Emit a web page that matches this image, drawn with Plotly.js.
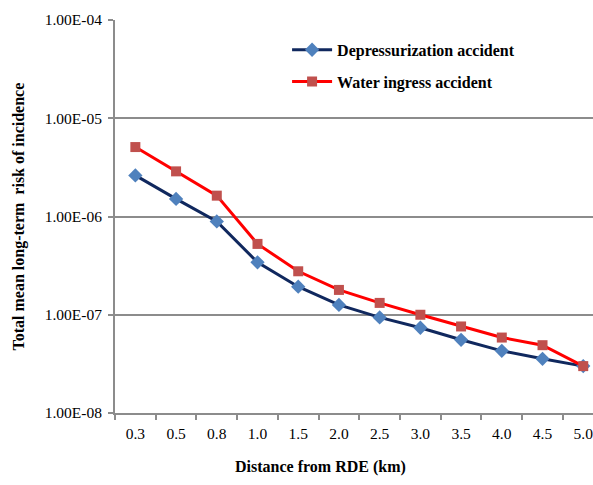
<!DOCTYPE html>
<html>
<head>
<meta charset="utf-8">
<script src="https://cdn.plot.ly/plotly-3.0.1.min.js"></script>
<style>html,body{margin:0;padding:0;background:#fff;}</style>
</head>
<body>
<div id="chart" style="width:593px;height:485px;"></div>
<script>
var distances = ["0.3","0.5","0.8","1.0","1.5","2.0","2.5","3.0","3.5","4.0","4.5","5.0"];
var depressurization = [2.62e-6,1.51e-6,8.9e-7,3.42e-7,1.93e-7,1.26e-7,9.4e-8,7.37e-8,5.56e-8,4.29e-8,3.56e-8,3.0e-8];
var waterIngress = [5.09e-6,2.88e-6,1.63e-6,5.26e-7,2.77e-7,1.79e-7,1.32e-7,1.0e-7,7.6e-8,5.86e-8,4.9e-8,3.0e-8];
var yTickVals = [1e-8,1e-7,1e-6,1e-5,1e-4];
var yTickText = ["1.00E-08","1.00E-07","1.00E-06","1.00E-05","1.00E-04"];

var serif = "'Liberation Serif', serif";

var traces = [
  {x: distances, y: depressurization, name: "Depressurization accident", type: "scatter", mode: "lines+markers",
   line: {color: "#10285E", width: 3},
   marker: {symbol: "diamond", size: 11, color: "#4F81BD", line: {width: 0}},
   legend: "legend"},
  {x: distances, y: waterIngress, name: "Water ingress accident", type: "scatter", mode: "lines+markers",
   line: {color: "#FF0000", width: 3},
   marker: {symbol: "square", size: 10, color: "#C0504D", line: {width: 0}},
   legend: "legend2"}
];

var legendFont = {family: serif, size: 16, color: "#000", weight: "bold"};

var layout = {
  width: 593, height: 485,
  margin: {l: 115, r: 0, t: 20, b: 72},
  paper_bgcolor: "#fff", plot_bgcolor: "#fff",
  showlegend: true,
  legend: {x: 0.36, y: 0.924, xanchor: "left", yanchor: "middle", font: legendFont, bgcolor: "rgba(0,0,0,0)", itemwidth: 40},
  legend2: {x: 0.36, y: 0.843, xanchor: "left", yanchor: "middle", font: legendFont, bgcolor: "rgba(0,0,0,0)", itemwidth: 40},
  xaxis: {
    type: "category", range: [-0.5, 11.24],
    showgrid: false, zeroline: false,
    showline: true, linecolor: "#8C8C8C", linewidth: 2,
    ticks: "outside", tickson: "boundaries", ticklen: 5, tickwidth: 2, tickcolor: "#8C8C8C",
    tickfont: {family: serif, size: 15.5, color: "#000"},
    ticklabelstandoff: 5
  },
  yaxis: {
    type: "log", range: [-8, -4],
    tickvals: yTickVals, ticktext: yTickText,
    showgrid: true, gridcolor: "#8C8C8C", gridwidth: 2,
    zeroline: false,
    showline: true, linecolor: "#8C8C8C", linewidth: 2,
    ticks: "outside", ticklen: 5, tickwidth: 2, tickcolor: "#8C8C8C",
    tickfont: {family: serif, size: 15.5, color: "#000"},
    ticklabelstandoff: 3
  },
  annotations: [
    {text: "Distance from RDE (km)", xref: "paper", yref: "paper", x: 0.429, y: -0.137,
     xanchor: "center", yanchor: "middle", showarrow: false,
     font: {family: serif, size: 16, color: "#000", weight: "bold"}},
    {text: "Total mean long-term  risk of incidence", xref: "paper", yref: "paper", x: -0.2, y: 0.501,
     xanchor: "center", yanchor: "middle", showarrow: false, textangle: -90,
     font: {family: serif, size: 16, color: "#000", weight: "bold"}}
  ]
};

Plotly.newPlot("chart", traces, layout, {displayModeBar: false, staticPlot: true});
</script>
</body>
</html>
